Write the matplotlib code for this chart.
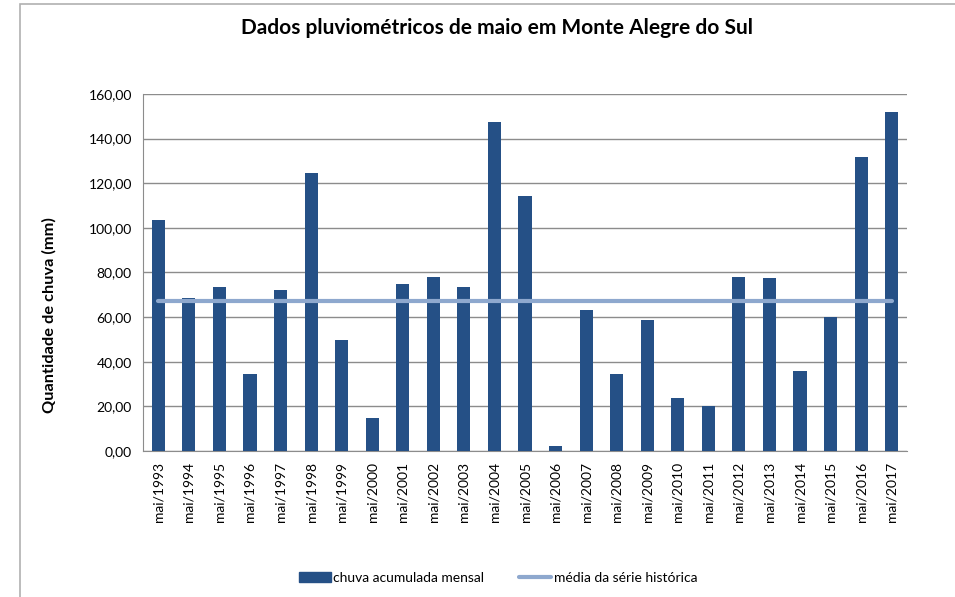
import numpy as np
from matplotlib import pyplot as plt
from matplotlib.patches import Rectangle
from matplotlib.lines import Line2D

plt.rcParams['font.family'] = ['Lato', 'DejaVu Sans']

anos = list(range(1993, 2018))
rotulos = [f"mai/{a}" for a in anos]
chuva = [103.6, 68.5, 73.6, 34.5, 72.2, 124.7, 49.9, 14.8, 74.9, 78.1,
         73.6, 147.6, 114.4, 2.2, 63.0, 34.5, 58.8, 23.8, 20.3, 78.1,
         77.6, 35.9, 60.1, 131.9, 152.1]
media = [67.1] * len(anos)

cor_barra = "#255086"
cor_media = "#8EA8CE"

fig = plt.figure(figsize=(9.55, 5.97), dpi=100)
ax = fig.add_axes([143 / 955, 1 - 451 / 597, (907 - 143) / 955, (451 - 94) / 597])

x = np.arange(len(anos))
ax.bar(x, chuva, width=0.43, color=cor_barra, zorder=3)
ax.plot(x, media, color=cor_media, linewidth=3, solid_capstyle='round', zorder=4)

ax.set_xlim(-0.5, len(anos) - 0.5)
ax.set_ylim(0, 160)
ax.set_yticks(np.arange(0, 161, 20))
ax.set_yticklabels([f"{v:.2f}".replace(".", ",") for v in np.arange(0, 161, 20)], fontsize=10)
ax.set_xticks(x)
ax.set_xticklabels(rotulos, rotation=90, fontsize=10)
ax.tick_params(axis='both', length=0, pad=8)
ax.grid(True, axis='y', color="#8c8c8c", linewidth=1, zorder=0)
for lado in ['top', 'right']:
    ax.spines[lado].set_visible(False)
for lado in ['left', 'bottom']:
    ax.spines[lado].set_color("#8c8c8c")

fig.text(497 / 955, 1 - 28 / 597, "Dados pluviométricos de maio em Monte Alegre do Sul",
         ha='center', va='center', fontsize=15, fontweight='bold')
fig.text(49 / 955, 1 - 315 / 597, "Quantidade de chuva (mm)", rotation=90,
         ha='center', va='center', fontsize=11.8, fontweight='bold')

# moldura da area do grafico
fig.patches.append(Rectangle((20 / 955, -0.1), 1.2, 1 - 4 / 597 + 0.1, transform=fig.transFigure,
                             fill=False, edgecolor="#b0b0b0", linewidth=1.2))

itens = [Rectangle((0, 0), 1, 1, color=cor_barra),
         Line2D([0], [0], color=cor_media, linewidth=3, solid_capstyle='round')]
fig.legend(itens, ["chuva acumulada mensal", "média da série histórica"],
           loc='center', bbox_to_anchor=(498 / 955, 1 - 578 / 597), ncol=2, frameon=False,
           fontsize=10, handlelength=2.3, handletextpad=0.2, columnspacing=2.5)

fig.savefig("out.png", dpi=100)
